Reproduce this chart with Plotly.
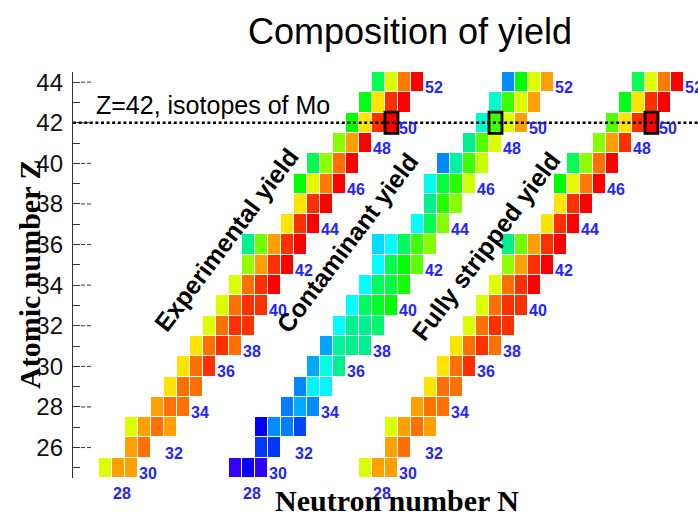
import numpy as np
import plotly.graph_objects as go

# ---- data -------------------------------------------------------------
# proton number of each row of the nuclide chart, first neutron number in
# that row, and the relative yield of every isotope in the row
ROW_Z = list(range(25, 45))
ROW_N0 = [27, 29, 29, 31, 32, 33, 34, 35, 36, 37, 38, 38, 41, 42, 42, 43, 45, 46, 47, 48]

EXP_YIELD = [
    [0.72, 0.84, 0.84],
    [0.84, 0.89],
    [0.72, 0.84, 0.89, 0.84],
    [0.84, 0.89, 0.89],
    [0.78, 0.89, 0.89],
    [0.78, 0.89, 0.94],
    [0.78, 0.89, 0.94, 0.89],
    [0.72, 0.89, 0.94, 0.94],
    [0.72, 0.89, 0.94, 0.94],
    [0.72, 0.89, 0.94, 1.00],
    [0.66, 0.84, 0.94, 1.00],
    [0.48, 0.63, 0.84, 0.94, 1.00],
    [0.78, 0.94, 1.00],
    [0.78, 0.94, 1.00],
    [0.56, 0.74, 0.88, 1.00],
    [0.52, 0.66, 0.89, 1.00],
    [0.65, 0.84, 1.00],
    [0.56, 0.78, 0.94, 1.00],
    [0.55, 0.78, 0.94, 1.00],
    [0.52, 0.72, 0.88, 1.00],
]

CONT_YIELD = [
    [0.00, 0.06, 0.01],
    [0.14, 0.14],
    [0.08, 0.25, 0.23, 0.16],
    [0.23, 0.30, 0.25],
    [0.24, 0.39, 0.39],
    [0.30, 0.43, 0.48],
    [0.29, 0.47, 0.48, 0.48],
    [0.40, 0.48, 0.48, 0.50],
    [0.40, 0.51, 0.54, 0.56],
    [0.40, 0.51, 0.53, 0.57],
    [0.40, 0.52, 0.56, 0.61],
    [0.36, 0.40, 0.51, 0.59, 0.65],
    [0.40, 0.52, 0.65],
    [0.48, 0.58, 0.65],
    [0.42, 0.53, 0.58, 0.71],
    [0.24, 0.47, 0.59, 0.70],
    [0.48, 0.60, 0.72],
    [0.44, 0.59, 0.72, 0.84],
    [0.44, 0.59, 0.72, 0.84],
    [0.25, 0.56, 0.72, 0.84],
]

FS_YIELD = [
    [0.72, 0.84, 0.84],
    [0.84, 0.89],
    [0.72, 0.84, 0.89, 0.84],
    [0.84, 0.89, 0.89],
    [0.78, 0.89, 0.89],
    [0.78, 0.89, 0.94],
    [0.78, 0.89, 0.94, 0.89],
    [0.72, 0.89, 0.94, 0.94],
    [0.72, 0.89, 0.94, 0.94],
    [0.72, 0.89, 0.94, 1.00],
    [0.66, 0.84, 0.94, 1.00],
    [0.48, 0.63, 0.84, 0.94, 1.00],
    [0.78, 0.94, 1.00],
    [0.78, 0.94, 1.00],
    [0.56, 0.74, 0.88, 1.00],
    [0.52, 0.66, 0.89, 1.00],
    [0.65, 0.84, 0.94],
    [0.60, 0.78, 0.94, 1.00],
    [0.55, 0.78, 0.94, 1.00],
    [0.52, 0.72, 0.88, 1.00],
]

BLOCK_NAMES = ["Experimental yield", "Contaminant yield", "Fully stripped yield"]
BLOCK_YIELDS = [EXP_YIELD, CONT_YIELD, FS_YIELD]

# neutron-number labels along the diagonal (N, Z row)
LABEL_N = [28, 30, 32, 34, 36, 38, 40, 42, 44, 46, 48, 50, 52]
LABEL_Z = [24, 25, 26, 28, 30, 31, 33, 35, 37, 39, 41, 42, 44]

# highlighted molybdenum isotope in each block
MO_Z = 42
MO_N = [49, 47, 49]

Y_TICKS = list(range(26, 45, 2))

# ---- style ------------------------------------------------------------
COL_SHIFT = [0, 10, 20]          # horizontal shift of each block (in N units)
RAINBOW = [
    [0.00, "#3300ff"], [0.08, "#0000ff"], [0.16, "#0048ff"], [0.24, "#0088ff"],
    [0.31, "#00b0ff"], [0.40, "#00ffff"], [0.44, "#00ffd0"], [0.48, "#00f090"],
    [0.52, "#00ff50"], [0.56, "#00ff00"], [0.60, "#50ff00"], [0.66, "#90ff00"],
    [0.72, "#dcff00"], [0.78, "#ffe400"], [0.84, "#ffa000"], [0.89, "#ff7000"],
    [0.94, "#ff3000"], [1.00, "#ff0000"],
]
W, H = 698, 518
ML, MR, MT, MB = 73, 0, 72, 40
PW, PH = W - ML - MR, H - MT - MB
PX_PER_N = 13.0
X0 = 24.5
X1 = X0 + PW / PX_PER_N
Y0, Y1 = 24.5, 44.5


def ypaper(z):
    return (z - Y0) / (Y1 - Y0)


fig = go.Figure()

n_min = min(ROW_N0)
n_max = max(n0 + len(r) - 1 for n0, r in zip(ROW_N0, EXP_YIELD))
n_cols = np.arange(n_min, n_max + 1)

for shift, yields in zip(COL_SHIFT, BLOCK_YIELDS):
    grid = np.full((len(ROW_Z), len(n_cols)), np.nan)
    for i, (n0, vals) in enumerate(zip(ROW_N0, yields)):
        for k, v in enumerate(vals):
            grid[i, n0 + k - n_min] = v
    fig.add_trace(go.Heatmap(
        x=n_cols + shift, y=ROW_Z, z=grid,
        zmin=0, zmax=1, colorscale=RAINBOW, showscale=False,
        xgap=1, ygap=1, hoverinfo="skip",
    ))

shapes = []
# dotted Z = 42 guide line
shapes.append(dict(type="line", xref="paper", yref="y", x0=0, x1=1, y0=MO_Z, y1=MO_Z,
                   line=dict(color="black", width=2.6, dash="3px,2.6px"), layer="above"))
# boxes around the highlighted Mo isotope
for shift, n in zip(COL_SHIFT, MO_N):
    shapes.append(dict(type="rect", xref="x", yref="y",
                       x0=n - 0.5 + shift, x1=n + 0.5 + shift,
                       y0=MO_Z - 0.52, y1=MO_Z + 0.52,
                       line=dict(color="black", width=2.8), layer="above"))
# dashed extensions of the major ticks
for t in Y_TICKS:
    shapes.append(dict(type="line", xref="paper", yref="y",
                       x0=(81 - ML) / PW, x1=(93 - ML) / PW, y0=t, y1=t,
                       line=dict(color="#333", width=1, dash="4px,2px"), layer="above"))

ann = []
# neutron number labels of each block
for shift in COL_SHIFT:
    for n, z in zip(LABEL_N, LABEL_Z):
        ann.append(dict(text=str(n), xref="x", yref="paper",
                        x=n - 0.6 + shift, y=ypaper(z - 0.27),
                        xanchor="left", yanchor="middle", showarrow=False,
                        font=dict(family="Liberation Sans, Arial", size=16,
                                  color="#2424ff", weight="bold")))

ann.append(dict(text="Z=42, isotopes of Mo", xref="paper", yref="paper",
                x=(94 - ML) / PW, y=ypaper(MO_Z + 0.85), xanchor="left", yanchor="middle",
                showarrow=False, font=dict(family="Liberation Sans, Arial", size=25, color="black")))
for name, (px, py) in zip(BLOCK_NAMES, [(226, 240), (347, 243), (486, 246)]):
    ann.append(dict(text=name, xref="paper", yref="paper",
                    x=(px - ML) / PW, y=(H - MB - py) / PH,
                    xanchor="center", yanchor="middle", textangle=-53, showarrow=False,
                    font=dict(family="Liberation Sans, Arial", size=25, color="black",
                              weight="bold")))
ann.append(dict(text="<b>Atomic number Z</b>", xref="paper", yref="paper",
                x=(29 - ML) / PW, y=0.5, xanchor="center", yanchor="middle",
                textangle=-90, showarrow=False,
                font=dict(family="Liberation Serif, Times New Roman", size=30, color="black")))
ann.append(dict(text="<b>Neutron number N</b>", xref="paper", yref="paper",
                x=(397 - ML) / PW, y=(H - MB - 500) / PH,
                xanchor="center", yanchor="middle", showarrow=False,
                font=dict(family="Liberation Serif, Times New Roman", size=30, color="black")))

fig.update_layout(
    width=W, height=H,
    margin=dict(l=ML, r=MR, t=MT, b=MB, pad=0),
    paper_bgcolor="white", plot_bgcolor="white",
    showlegend=False,
    title=dict(text="Composition of yield", x=410 / W, y=1 - 31 / H,
               xanchor="center", yanchor="middle",
               font=dict(family="Liberation Sans, Arial", size=36, color="black")),
    xaxis=dict(range=[X0, X1], visible=False, fixedrange=True),
    yaxis=dict(range=[Y0, Y1], tickvals=Y_TICKS, ticks="inside", ticklen=7,
               tickwidth=1.2, tickcolor="#333", showline=True, linecolor="#333", linewidth=1.3,
               showgrid=False, zeroline=False, ticklabelstandoff=4,
               tickfont=dict(family="Liberation Sans, Arial", size=24, color="#111"),
               minor=dict(dtick=1, ticks="inside", ticklen=7, tickwidth=1.2, tickcolor="#333")),
    shapes=shapes, annotations=ann,
)

fig.write_html("out.html")
